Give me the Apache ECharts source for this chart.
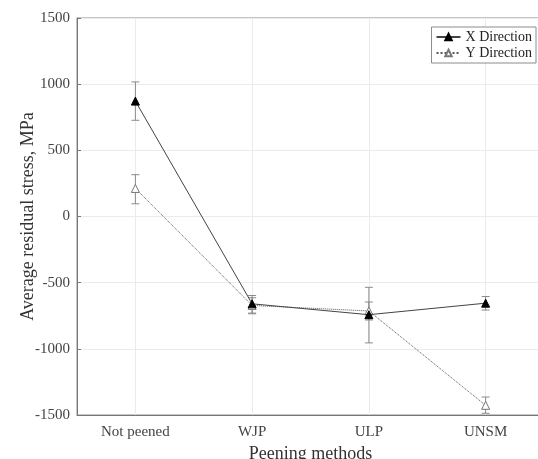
<!DOCTYPE html>
<html>
<head>
<meta charset="utf-8" />
<title>Residual stress</title>
<script src="https://cdn.jsdelivr.net/npm/echarts@6/dist/echarts.min.js"></script>
</head>
<body style="margin:0">
<div id="main" style="width:538px;height:459px;"></div>
<script type="text/javascript">
var categories = ['Not peened', 'WJP', 'ULP', 'UNSM'];
var xDir = [872, -660, -742, -655];
var xLow = [727, -735, -955, -707];
var xHigh = [1017, -597, -535, -605];
var yDir = [212, -672, -714, -1427];
var yLow = [96, -730, -782, -1487];
var yHigh = [316, -614, -646, -1364];
var yTicks = [-1500, 1500, 500];

var serif = '"Liberation Serif", "Times New Roman", serif';
var myChart = echarts.init(document.getElementById('main'));

function errData(low, high) {
	var out = [];
	for (var i = 0; i < categories.length; i++) out.push([i, low[i], high[i]]);
	return out;
}

function renderErr(params, api) {
	var x = api.value(0);
	var lo = api.coord([x, api.value(1)]);
	var hi = api.coord([x, api.value(2)]);
	var w = 4;
	var st = { stroke: '#8a8a8a', lineWidth: 1 };
	return {
		type: 'group',
		children: [
			{ type: 'line', shape: { x1: lo[0], y1: lo[1], x2: hi[0], y2: hi[1] }, style: st },
			{ type: 'line', shape: { x1: lo[0] - w, y1: lo[1], x2: lo[0] + w, y2: lo[1] }, style: st },
			{ type: 'line', shape: { x1: hi[0] - w, y1: hi[1], x2: hi[0] + w, y2: hi[1] }, style: st }
		]
	};
}

var option = {
	backgroundColor: '#fff',
	animation: false,
	textStyle: { fontFamily: serif },
	grid: {
		left: 77, top: 18, width: 467, height: 397,
		outerBoundsMode: 'none', containLabel: false,
		show: true, borderColor: '#8c8c8c', borderWidth: 1
	},
	legend: {
		right: 2, top: 27, orient: 'vertical',
		backgroundColor: '#fff', borderColor: '#8c8c8c', borderWidth: 1, borderRadius: 0,
		padding: [3, 4, 3, 4], itemGap: 2, itemWidth: 24, itemHeight: 8,
		textStyle: { fontFamily: serif, fontSize: 14, color: '#222' },
		data: ['X Direction', 'Y Direction']
	},
	xAxis: {
		type: 'category',
		data: categories,
		name: 'Peening methods',
		nameLocation: 'middle',
		nameGap: 30,
		nameMoveOverlap: false,
		nameTextStyle: { fontFamily: serif, fontSize: 18, color: '#333' },
		axisLine: { onZero: false, lineStyle: { color: '#777' } },
		axisTick: { inside: true, alignWithLabel: true, length: 4, lineStyle: { color: '#777' } },
		axisLabel: { fontFamily: serif, fontSize: 15, color: '#444', margin: 10 },
		splitLine: { show: true, alignWithLabel: true, lineStyle: { color: '#ebebeb' } }
	},
	yAxis: {
		type: 'value',
		min: yTicks[0], max: yTicks[1], interval: yTicks[2],
		name: 'Average residual stress, MPa',
		nameLocation: 'middle',
		nameGap: 40,
		nameMoveOverlap: false,
		nameTextStyle: { fontFamily: serif, fontSize: 18, color: '#333' },
		axisLine: { show: true, lineStyle: { color: '#777' } },
		axisTick: { show: true, inside: true, length: 4, lineStyle: { color: '#777' } },
		axisLabel: { fontFamily: serif, fontSize: 15, color: '#444', margin: 7, formatter: function (v) { return String(v); } },
		splitLine: { show: true, lineStyle: { color: '#ebebeb' } }
	},
	series: [
		{
			type: 'custom', name: 'xerr', renderItem: renderErr,
			data: errData(xLow, xHigh), encode: { x: 0, y: [1, 2] }, z: 1, silent: true
		},
		{
			type: 'custom', name: 'yerr', renderItem: renderErr,
			data: errData(yLow, yHigh), encode: { x: 0, y: [1, 2] }, z: 1, silent: true
		},
		{
			name: 'Y Direction', type: 'line', data: yDir, z: 2,
			symbol: 'triangle', symbolSize: 8,
			lineStyle: { color: '#555', width: 1, type: 'dotted' },
			itemStyle: { color: '#fff', borderColor: '#777', borderWidth: 1 }
		},
		{
			name: 'X Direction', type: 'line', data: xDir, z: 3,
			symbol: 'triangle', symbolSize: 8,
			lineStyle: { color: '#444', width: 1 },
			itemStyle: { color: '#000', borderColor: '#000', borderWidth: 1 }
		}
	]
};
myChart.setOption(option);
</script>
</body>
</html>
